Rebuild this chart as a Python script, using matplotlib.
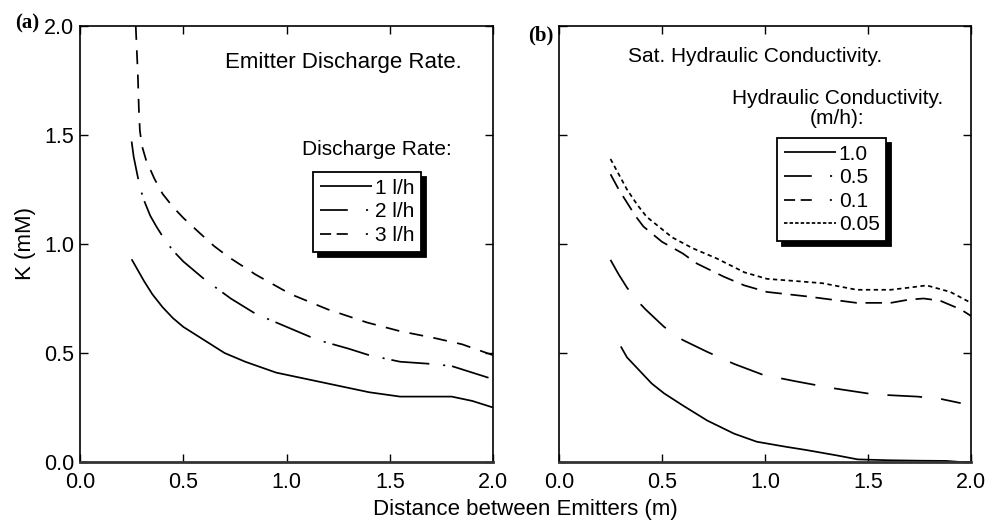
import matplotlib
matplotlib.use("Agg")
import matplotlib.pyplot as plt
from matplotlib.lines import Line2D

plt.rcParams['font.family'] = ['Liberation Sans', 'DejaVu Sans']

# ---- data (panel a: emitter discharge rate) ----
x_1lh = [0.25, 0.28, 0.31, 0.35, 0.40, 0.45, 0.50, 0.55, 0.60, 0.70, 0.80, 0.95, 1.10, 1.25, 1.40, 1.55, 1.70, 1.80, 1.90, 2.00]
y_1lh = [0.93, 0.88, 0.83, 0.77, 0.71, 0.66, 0.62, 0.59, 0.56, 0.50, 0.46, 0.41, 0.38, 0.35, 0.32, 0.30, 0.30, 0.30, 0.28, 0.25]

x_2lh = [0.25, 0.26, 0.275, 0.29, 0.31, 0.34, 0.37, 0.41, 0.45, 0.50, 0.60, 0.73, 0.85, 1.00, 1.15, 1.30, 1.40, 1.55, 1.70, 1.80, 1.90, 2.00]
y_2lh = [1.47, 1.40, 1.33, 1.26, 1.20, 1.13, 1.08, 1.02, 0.97, 0.92, 0.84, 0.75, 0.68, 0.62, 0.56, 0.52, 0.49, 0.46, 0.45, 0.44, 0.41, 0.38]

x_3lh = [0.27, 0.28, 0.285, 0.29, 0.30, 0.32, 0.36, 0.40, 0.45, 0.50, 0.58, 0.65, 0.72, 0.85, 1.02, 1.20, 1.39, 1.55, 1.71, 1.85, 2.00]
y_3lh = [2.00, 1.78, 1.62, 1.52, 1.45, 1.385, 1.30, 1.23, 1.17, 1.12, 1.05, 0.99, 0.94, 0.86, 0.77, 0.70, 0.64, 0.60, 0.57, 0.54, 0.49]

# ---- data (panel b: saturated hydraulic conductivity) ----
x_k10 = [0.30, 0.33, 0.36, 0.39, 0.45, 0.51, 0.60, 0.72, 0.85, 0.96, 1.10, 1.20, 1.35, 1.45, 1.60, 1.75, 1.88, 1.95, 2.00]
y_k10 = [0.53, 0.48, 0.45, 0.42, 0.36, 0.315, 0.26, 0.19, 0.13, 0.093, 0.07, 0.055, 0.03, 0.012, 0.008, 0.006, 0.005, 0.0, 0.0]

x_k05 = [0.25, 0.29, 0.33, 0.37, 0.42, 0.51, 0.60, 0.72, 0.85, 0.99, 1.15, 1.32, 1.53, 1.74, 1.85, 1.95]
y_k05 = [0.927, 0.86, 0.80, 0.75, 0.70, 0.62, 0.56, 0.505, 0.45, 0.40, 0.37, 0.34, 0.31, 0.30, 0.29, 0.27]

x_k01 = [0.25, 0.29, 0.33, 0.37, 0.41, 0.50, 0.60, 0.67, 0.80, 0.90, 1.01, 1.20, 1.445, 1.61, 1.70, 1.77, 1.85, 1.95, 2.00]
y_k01 = [1.32, 1.25, 1.19, 1.13, 1.08, 1.01, 0.957, 0.91, 0.85, 0.81, 0.78, 0.76, 0.73, 0.73, 0.745, 0.75, 0.74, 0.70, 0.67]

x_k005 = [0.25, 0.29, 0.33, 0.38, 0.425, 0.55, 0.65, 0.765, 0.90, 1.01, 1.15, 1.28, 1.445, 1.61, 1.70, 1.785, 1.90, 2.00]
y_k005 = [1.39, 1.32, 1.25, 1.18, 1.125, 1.03, 0.98, 0.934, 0.87, 0.84, 0.83, 0.82, 0.79, 0.79, 0.80, 0.81, 0.78, 0.73]

labels_a = ['1 l/h', '2 l/h', '3 l/h']
labels_b = ['1.0', '0.5', '0.1', '0.05']
ticks = [0.0, 0.5, 1.0, 1.5, 2.0]
tick_labels = ['0.0', '0.5', '1.0', '1.5', '2.0']

# dash styles (in linewidth-scaled points)
DS_SOLID = (0, ())
DS_DASHDOT = (0, (22, 8, 1.2, 4))
DS_DASH = (0, (8, 6))
DS_DASH_B = (0, (20, 11))
DS_MED = (0, (9.5, 5))
DS_DOT = (0, (2.5, 2))

LW = 1.25
FS = 15.5

fig = plt.figure(figsize=(9.85, 5.25), dpi=100)
axa = fig.add_axes([80/985, 63/525, 413/985, 436/525])
axb = fig.add_axes([559/985, 63/525, 412/985, 436/525])

def style(ax, show_ylabels):
    ax.set_xlim(0, 2)
    ax.set_ylim(0, 2)
    ax.set_xticks(ticks)
    ax.set_xticklabels(tick_labels)
    ax.set_yticks(ticks)
    if show_ylabels:
        ax.set_yticklabels(tick_labels)
    else:
        ax.set_yticklabels([])
    ax.tick_params(direction='in', length=6, width=1.0, top=True, right=True,
                   labelsize=FS, colors='black')
    ax.tick_params(axis='x', pad=7)
    ax.tick_params(axis='y', pad=4)
    for s in ax.spines.values():
        s.set_linewidth(1.2)
        s.set_color('black')
    ax.spines['bottom'].set_linewidth(2.0)
    ax.spines['bottom'].set_color('#333333')

style(axa, True)
style(axb, False)

# panel a lines
axa.plot(x_1lh, y_1lh, color='black', lw=LW, linestyle=DS_SOLID)
axa.plot(x_2lh, y_2lh, color='black', lw=LW, linestyle=DS_DASHDOT)
axa.plot(x_3lh, y_3lh, color='black', lw=LW, linestyle=DS_DASH)

# panel b lines
axb.plot(x_k10, y_k10, color='black', lw=LW, linestyle=DS_SOLID)
axb.plot(x_k05, y_k05, color='black', lw=LW, linestyle=DS_DASH_B)
axb.plot(x_k01, y_k01, color='black', lw=LW, linestyle=DS_MED)
axb.plot(x_k005, y_k005, color='black', lw=LW, linestyle=DS_DOT)

shadow_props = {'ox': 3.6, 'oy': -3.6, 'facecolor': 'black', 'edgecolor': 'black', 'alpha': 1}

# legend handles (dash lengths are scaled by the line width)
LS_LEG_DASHDOT = (0, (16, 10.5, 1.2, 10))
LS_LEG_DASH = (0, (6.4, 3.2, 6.4, 10.4, 1.2, 10))
ha = [Line2D([], [], color='black', lw=LW, linestyle=DS_SOLID),
      Line2D([], [], color='black', lw=LW, linestyle=LS_LEG_DASHDOT),
      Line2D([], [], color='black', lw=LW, linestyle=LS_LEG_DASH)]
hb = [Line2D([], [], color='black', lw=LW, linestyle=DS_SOLID),
      Line2D([], [], color='black', lw=LW, linestyle=LS_LEG_DASHDOT),
      Line2D([], [], color='black', lw=LW, linestyle=LS_LEG_DASH),
      Line2D([], [], color='black', lw=LW, linestyle=(0, (2.0, 1.2)))]

LEG_FS = 15
leg_kw = dict(loc='upper left', borderaxespad=0, fontsize=LEG_FS, handlelength=2.5,
              handletextpad=0.15, labelspacing=0.22, borderpad=0.32, fancybox=False,
              framealpha=1, edgecolor='black', shadow=shadow_props)
lega = axa.legend(ha, labels_a, bbox_to_anchor=(0.564, 0.665), **leg_kw)
lega.get_frame().set_linewidth(1.3)
legb = axb.legend(hb, labels_b, bbox_to_anchor=(0.529, 0.743), **leg_kw)
legb.get_frame().set_linewidth(1.3)

# annotations
axa.text(0.637, 0.917, 'Emitter Discharge Rate.', transform=axa.transAxes,
         ha='center', va='center', fontsize=16)
axa.text(0.719, 0.716, 'Discharge Rate:', transform=axa.transAxes,
         ha='center', va='center', fontsize=15)
axb.text(0.476, 0.929, 'Sat. Hydraulic Conductivity.', transform=axb.transAxes,
         ha='center', va='center', fontsize=15)
axb.text(0.676, 0.833, 'Hydraulic Conductivity.', transform=axb.transAxes,
         ha='center', va='center', fontsize=15)
axb.text(0.676, 0.787, '(m/h):', transform=axb.transAxes,
         ha='center', va='center', fontsize=15)

fig.text(27/985, 1 - 23/525, '(a)', ha='center', va='center', fontsize=15,
         fontweight='bold', family=['Liberation Serif', 'DejaVu Serif'])
fig.text(541/985, 1 - 35/525, '(b)', ha='center', va='center', fontsize=15,
         fontweight='bold', family=['Liberation Serif', 'DejaVu Serif'])

axa.set_ylabel('K (mM)', fontsize=16, labelpad=6)
fig.text(525/985, 1 - 510/525, 'Distance between Emitters (m)', ha='center', va='center',
         fontsize=16)

fig.savefig('out.png', dpi=100)
